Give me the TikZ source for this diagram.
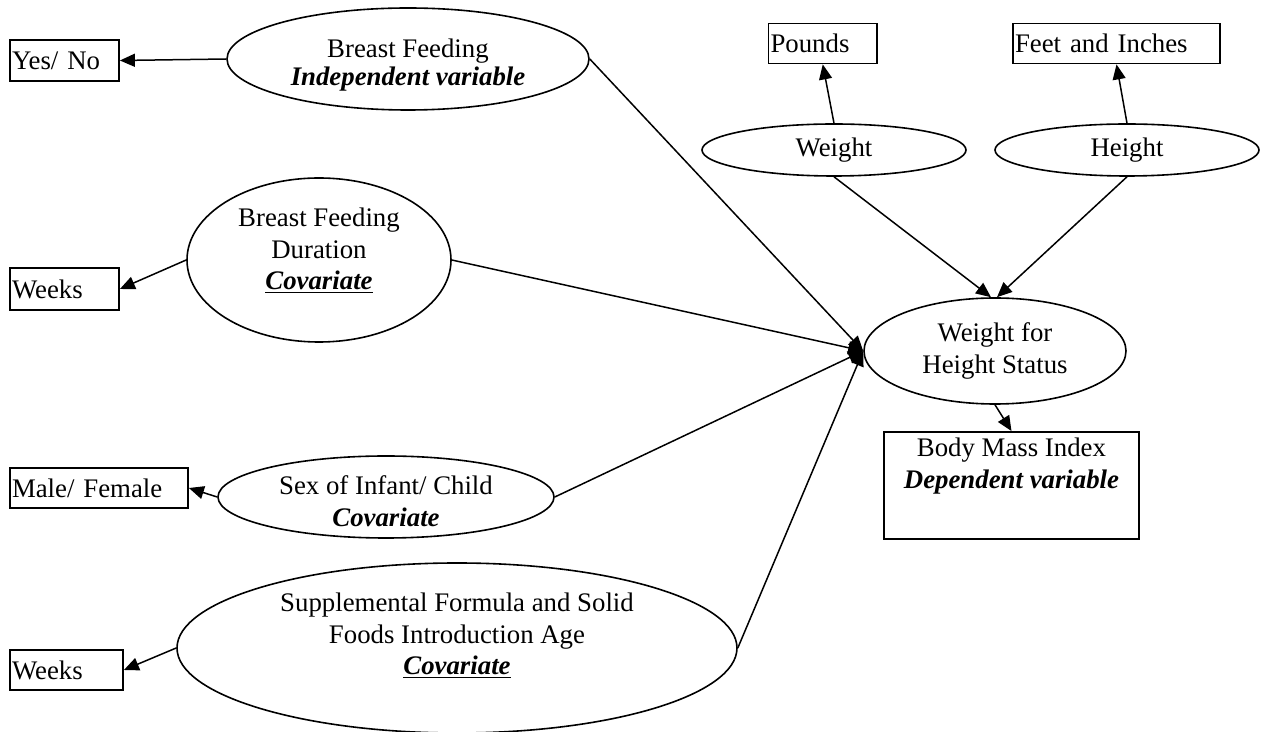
\documentclass[tikz,border=0pt]{standalone}
\usepackage{fontspec}
\setmainfont{Liberation Serif}
\usetikzlibrary{shapes.geometric,arrows.meta}
\begin{document}
\begin{tikzpicture}[x=0.5pt,y=-0.5pt,
  every node/.style={font=\fontsize{13.4pt}{15.75pt}\selectfont},
  oval/.style={draw, ellipse, inner sep=0pt, line width=0.8pt, align=center},
  ubox/.style={draw, rectangle, inner xsep=1pt, inner ysep=0pt, align=left, line width=0.9pt},
  lbl/.style={align=center, inner sep=0pt},
  conn/.style={line width=0.75pt, -{Triangle[length=7.5pt,width=6.5pt]}},
]
\useasboundingbox (0,0) rectangle (1266,732);
% unit boxes
\node[ubox, text width=52.5pt, minimum height=20.5pt] (yesno) at (64.5,60.5) {Yes/ No};
\node[ubox, text width=52.25pt, minimum height=20pt] (pounds) at (822.75,43.5) {Pounds};
\node[ubox, text width=101.5pt, minimum height=20pt] (feet) at (1116.5,43.5) {Feet and Inches};
\node[ubox, text width=52.5pt, minimum height=21pt] (weeksA) at (64.5,289) {Weeks};
\node[ubox, text width=87pt, minimum height=20pt] (mf) at (99,488) {Male/ Female};
\node[ubox, text width=54.5pt, minimum height=20pt] (weeksB) at (66.5,670) {Weeks};
\node[draw, rectangle, line width=0.9pt, minimum width=127.5pt, minimum height=53.5pt, inner sep=0pt] (bmi) at (1011.5,485.5) {};
\node[lbl] (bmit) at (1011.5,466) {Body Mass Index\\\textbf{\textit{Dependent variable}}};
% ellipses
\node[oval, minimum width=181pt, minimum height=51pt] (bf) at (408,59) {};
\node[lbl, font=\fontsize{13.4pt}{14pt}\selectfont] (bft) at (408,65) {Breast Feeding\\\textbf{\textit{Independent variable}}};
\node[oval, minimum width=132pt, minimum height=82pt] (bfd) at (319,260) {};
\node[lbl] (bfdt) at (319,251) {Breast Feeding\\Duration\\\underline{\textbf{\textit{Covariate}}}};
\node[oval, minimum width=168pt, minimum height=41pt] (sex) at (386,497) {};
\node[lbl] (sext) at (386,501) {Sex of Infant/ Child\\\textbf{\textit{Covariate}}};
\node[oval, minimum width=280pt, minimum height=85pt] (supp) at (457,648) {};
\node[lbl] (suppt) at (457,636) {Supplemental Formula and Solid\\Foods Introduction Age\\\underline{\textbf{\textit{Covariate}}}};
\node[oval, minimum width=132pt, minimum height=26pt] (weight) at (834,150) {Weight};
\node[oval, minimum width=132pt, minimum height=26pt] (height) at (1127,150) {Height};
\node[oval, minimum width=131pt, minimum height=53pt] (wfh) at (995,351) {Weight for\\Height Status};
% connectors
\draw[conn] (bf.west) -- (yesno.east);
\draw[conn] (bfd.west) -- (weeksA.east);
\draw[conn] (sex.west) -- (mf.east);
\draw[conn] (supp.west) -- (weeksB.east);
\draw[conn] (weight.north) -- (pounds.south);
\draw[conn] (height.north) -- (feet.south);
\draw[conn] (weight.south) -- ([xshift=-2pt]wfh.north);
\draw[conn] (height.south) -- ([xshift=1pt]wfh.north);
\draw[conn] (wfh.south) -- (bmi.north);
\draw[conn] (bf.east) -- (wfh.west);
\draw[conn] (bfd.east) -- (wfh.west);
\draw[conn] (sex.east) -- (wfh.west);
\draw[conn] (supp.east) -- (wfh.west);
\end{tikzpicture}
\end{document}
